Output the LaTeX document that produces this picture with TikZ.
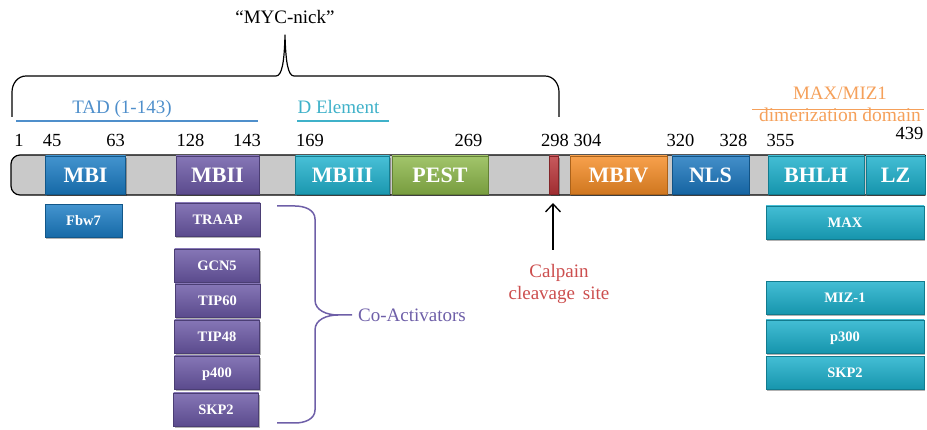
\documentclass[tikz,border=0pt]{standalone}
\usepackage{fontspec}
\setmainfont{Liberation Serif}
\usetikzlibrary{shadows,arrows.meta}
\definecolor{mbiC}{HTML}{1A7CC4}
\definecolor{mbiiC}{HTML}{6B58A6}
\definecolor{mbiiiC}{HTML}{20B2CE}
\definecolor{pestC}{HTML}{8DB84A}
\definecolor{mbivC}{HTML}{F58C25}
\definecolor{nlsC}{HTML}{1A76BE}
\definecolor{bhlhC}{HTML}{1AAFCB}
\definecolor{redC}{HTML}{BB3539}
\definecolor{barC}{HTML}{C9C9C9}
\definecolor{tadC}{HTML}{4F8FCB}
\definecolor{dC}{HTML}{3FB1C9}
\definecolor{maxC}{HTML}{F5A05A}
\definecolor{calC}{HTML}{CC4E4E}
\definecolor{coC}{HTML}{6E5FA8}
\tikzset{
  shbox/.style={inner sep=0pt, outer sep=0pt, draw=#1!70!black, line width=0.6pt,
    top color=#1!82!white, middle color=#1, bottom color=#1!85!black,
    drop shadow={shadow xshift=1pt, shadow yshift=-2pt, opacity=0.3, fill=black},
    text=white},
  dom/.style={shbox=#1, minimum height=38pt, text height=15pt, text depth=0pt,
    font=\bfseries\fontsize{22}{22}\selectfont},
  sbox/.style={shbox=#1, minimum height=33pt, text height=10pt, text depth=0pt,
    font=\bfseries\fontsize{14.5}{14.5}\selectfont},
  num/.style={anchor=base, font=\fontsize{18.5}{18.5}\selectfont, inner sep=0pt},
  lbl/.style={anchor=base, font=\fontsize{19}{19}\selectfont, inner sep=0pt},
}
\begin{document}
\begin{tikzpicture}[x=1pt,y=-1pt]
\useasboundingbox (0,0) rectangle (927,430);
% main bar
\draw[fill=barC, line width=1.2pt, rounded corners=9pt] (925,155) -- (11,155) -- (11,195) -- (925,195);
\draw[line width=1.2pt] (925,155) -- (925,195);
% domains
\node[dom=mbiC, minimum width=80pt] (mbi) at (85.5,175) {MBI};
\node[dom=mbiiC, minimum width=83pt] (mbii) at (217.5,175) {MBII};
\node[dom=mbiiiC, minimum width=94pt] (mbiii) at (342.5,175) {MBIII};
\node[dom=pestC, minimum width=96pt] (pest) at (440,175) {PEST};
\node[shbox=redC, minimum width=9pt, minimum height=38pt] (cut) at (554,175) {};
\node[dom=mbivC, minimum width=97pt] (mbiv) at (618.5,175) {MBIV};
\node[dom=nlsC, minimum width=77pt] (nls) at (710.5,175) {NLS};
\node[dom=bhlhC, minimum width=96pt] (bhlh) at (816,175) {BHLH};
\node[dom=bhlhC, minimum width=59pt] (lz) at (895.5,175) {LZ};
% numbers
\node[num] (n1) at (19,146.5) {1};
\node[num] (n45) at (52,146.5) {45};
\node[num] (n63) at (115.5,146.5) {63};
\node[num] (n128) at (190.5,146.5) {128};
\node[num] (n143) at (247,146.5) {143};
\node[num] (n169) at (310,146.5) {169};
\node[num] (n269) at (468.5,146.5) {269};
\node[num] (n298) at (555,146.5) {298};
\node[num] (n304) at (587.5,146.5) {304};
\node[num] (n320) at (680.5,146.5) {320};
\node[num] (n328) at (733.5,146.5) {328};
\node[num] (n355) at (780.5,146.5) {355};
\node[num] (n439) at (909.5,140) {439};
% region labels
\node[lbl, text=tadC] (tad) at (122,113.3) {TAD (1-143)};
\draw[tadC, line width=1.2pt] (16,121) -- (258,121);
\node[lbl, text=dC] (delem) at (338.5,114) {D Element};
\draw[dC, line width=1.2pt] (297,121) -- (389,121);
\node[lbl, text=maxC] (maxmiz) at (840,99.3) {MAX/MIZ1};
\draw[maxC, line width=1.2pt] (752,109.5) -- (924,109.5);
\node[lbl, text=maxC, font=\fontsize{19.5}{19.5}\selectfont] (dimer) at (840,121.7) {dimerization domain};
% MYC-nick brace
\node[lbl] (nick) at (285,23.3) {“MYC-nick”};
\coordinate (bl) at (12,117);
\coordinate (br) at (559,117);
\coordinate (btip) at (285,35);
\draw[line width=1.2pt, line join=round] (bl) -- (12,92) to[out=90,in=180] (26,76) -- (276,76)
  .. controls (282,76) and (284.3,62) .. (btip) .. controls (285.7,62) and (288,76) .. (294,76) -- (545,76)
  to[out=0,in=90] (559,92) -- (br);
% left partner boxes
\node[sbox=mbiC, minimum width=77pt] (fbw7) at (83.5,221) {Fbw7};
\node[sbox=mbiiC, minimum width=85pt] (traap) at (217.5,219.5) {TRAAP};
\node[sbox=mbiiC, minimum width=85pt] (gcn5) at (217,265.5) {GCN5};
\node[sbox=mbiiC, minimum width=85pt] (tip60) at (217.5,300.5) {TIP60};
\node[sbox=mbiiC, minimum width=85pt] (tip48) at (217,336.5) {TIP48};
\node[sbox=mbiiC, minimum width=85pt] (p400) at (217,372.5) {p400};
\node[sbox=mbiiC, minimum width=85pt] (skp2a) at (216,409.5) {SKP2};
% co-activator brace
\node[lbl, text=coC, anchor=base west] (coact) at (358,321.7) {Co-Activators};
\coordinate (ct) at (277,206);
\coordinate (cb) at (277,423);
\coordinate (ctip) at (352,315);
\draw[coC, line width=1.5pt] (ct) -- (295,206) to[out=0,in=90] (315,219) -- (315,300)
  to[out=-90,in=180] (338,315) -- (ctip);
\draw[coC, line width=1.5pt] (338,315) to[out=180,in=90] (315,330) -- (315,410)
  to[out=-90,in=0] (295,423) -- (cb);
% calpain
\coordinate (caltail) at (553,250);
\coordinate (caltip) at (553,203);
\draw[line width=1.3pt, -{Straight Barb[length=8pt,width=15pt]}] (caltail) -- (caltip);
\node[lbl, text=calC] (cal1) at (559,277.3) {Calpain};
\node[lbl, text=calC] (cal2) at (559,300) {cleavage\, site};
% right partner boxes
\node[sbox=bhlhC, minimum width=158pt] (max) at (845,222.5) {MAX};
\node[sbox=bhlhC, minimum width=158pt] (miz) at (845,298) {MIZ-1};
\node[sbox=bhlhC, minimum width=158pt] (p300) at (845,336.5) {p300};
\node[sbox=bhlhC, minimum width=158pt] (skp2b) at (845,373) {SKP2};
\end{tikzpicture}
\end{document}
